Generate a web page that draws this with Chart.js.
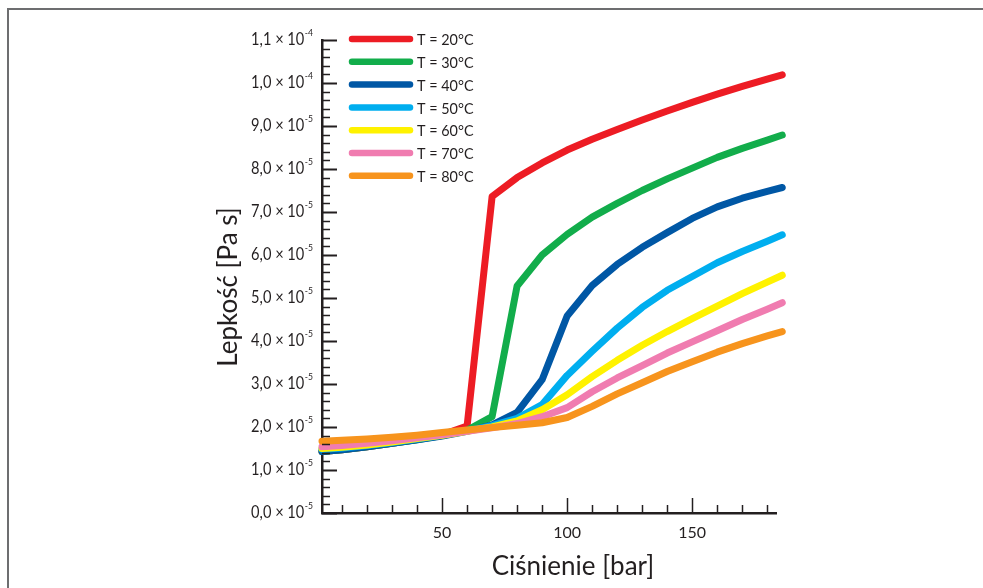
<!DOCTYPE html>
<html>
<head>
<meta charset="utf-8">
<script src="https://cdn.jsdelivr.net/npm/chart.js@4/dist/chart.umd.min.js"></script>
<style>
  html, body { margin: 0; padding: 0; background: #fff; }
</style>
</head>
<body>
<canvas id="lepkoscChart" width="983" height="588"></canvas>
<script>
// cisnienie [bar]
var cisnienie = [2, 10, 20, 30, 40, 50, 60, 70, 80, 90, 100, 110, 120, 130, 140, 150, 160, 170, 180, 186];

// lepkosc w jednostkach 10^-5 Pa s
var t20 = [1.43, 1.47, 1.54, 1.62, 1.71, 1.82, 2.02, 7.36, 7.80, 8.14, 8.44, 8.69, 8.92, 9.14, 9.35, 9.55, 9.74, 9.92, 10.09, 10.19];
var t30 = [1.43, 1.47, 1.54, 1.62, 1.70, 1.80, 1.92, 2.24, 5.28, 6.00, 6.48, 6.88, 7.20, 7.50, 7.77, 8.02, 8.27, 8.48, 8.67, 8.79];
var t40 = [1.43, 1.47, 1.54, 1.62, 1.70, 1.79, 1.90, 2.05, 2.34, 3.10, 4.58, 5.29, 5.78, 6.18, 6.52, 6.85, 7.12, 7.32, 7.48, 7.57];
var t50 = [1.48, 1.51, 1.57, 1.64, 1.72, 1.81, 1.91, 2.03, 2.20, 2.52, 3.20, 3.76, 4.30, 4.78, 5.18, 5.50, 5.82, 6.08, 6.32, 6.47];
var t60 = [1.50, 1.53, 1.58, 1.65, 1.73, 1.81, 1.90, 2.00, 2.14, 2.40, 2.75, 3.17, 3.55, 3.90, 4.22, 4.52, 4.81, 5.10, 5.37, 5.53];
var t70 = [1.54, 1.57, 1.62, 1.68, 1.75, 1.82, 1.90, 1.98, 2.08, 2.24, 2.45, 2.82, 3.14, 3.43, 3.72, 3.98, 4.24, 4.50, 4.74, 4.89];
var t80 = [1.67, 1.69, 1.72, 1.76, 1.81, 1.87, 1.93, 1.99, 2.04, 2.10, 2.22, 2.48, 2.77, 3.03, 3.29, 3.52, 3.74, 3.94, 4.12, 4.22];

var etykiety = ["T = 20°C", "T = 30°C", "T = 40°C", "T = 50°C", "T = 60°C", "T = 70°C", "T = 80°C"];
var kolory = ["#ed1c24", "#12ad4b", "#0057a5", "#00aeef", "#fff200", "#f07cb0", "#f7941d"];

// podzialki
var xPodzialki = [10, 20, 30, 40, 50, 60, 70, 80, 90, 100, 110, 120, 130, 140, 150, 160, 170, 180];
var xOpisane = [50, 100, 150];
var yGlowne = [0, 1, 2, 3, 4, 5, 6, 7, 8, 9, 10, 11];

var ciemny = '#231f20';
var font = 'Lato, "Open Sans", sans-serif';

// "1,1 × 10" + wykladnik
function opisY(v) {
    if (v >= 10) return [(v / 10).toFixed(1).replace('.', ',') + ' × 10', '-4'];
    return [v.toFixed(1).replace('.', ',') + ' × 10', '-5'];
}

var serie = [t20, t30, t40, t50, t60, t70, t80];
var datasets = serie.map(function (s, i) {
    return {
        label: etykiety[i],
        data: s.map(function (v, j) { return {x: cisnienie[j], y: v}; }),
        borderColor: kolory[i],
        backgroundColor: kolory[i],
        borderWidth: 7,
        borderCapStyle: 'round',
        borderJoinStyle: 'round',
        pointRadius: 0,
        tension: 0,
        clip: false,
        order: -i
    };
});

function tekstWaski(ctx, txt, x, y, sx) {
    ctx.save();
    ctx.translate(x, y);
    ctx.scale(sx, 1);
    ctx.fillText(txt, 0, 0);
    ctx.restore();
}

// podzialki do srodka, opisy osi y, legenda, tytuly osi, ramka
var dodatki = {
    id: 'dodatki',
    afterDraw: function (chart) {
        var ctx = chart.ctx;
        var xs = chart.scales.x, ys = chart.scales.y;
        var a = chart.chartArea;
        ctx.save();
        ctx.strokeStyle = ciemny;
        ctx.lineWidth = 1.5;
        xPodzialki.forEach(function (v) {
            var px = Math.round(xs.getPixelForValue(v)) + 0.5;
            var len = xOpisane.indexOf(v) >= 0 ? 15 : 8;
            ctx.beginPath(); ctx.moveTo(px, a.bottom); ctx.lineTo(px, a.bottom - len); ctx.stroke();
        });
        for (var k = 0; k <= 55; k++) {
            var py = Math.round(ys.getPixelForValue(k / 5)) + 0.5;
            var len = (k % 5 === 0) ? 15 : 8;
            ctx.lineWidth = (k % 5 === 0) ? 2 : 1.5;
            ctx.beginPath(); ctx.moveTo(a.left, py); ctx.lineTo(a.left + len, py); ctx.stroke();
        }

        // opisy osi y
        ctx.fillStyle = ciemny;
        ctx.textBaseline = 'middle';
        ctx.textAlign = 'left';
        var sx = 0.86;
        yGlowne.forEach(function (v) {
            var py = ys.getPixelForValue(v);
            var t = opisY(v);
            ctx.font = '10px ' + font;
            var w2 = ctx.measureText(t[1]).width * sx;
            ctx.font = '17px ' + font;
            var w1 = ctx.measureText(t[0]).width * sx;
            var prawy = a.left - 9;
            tekstWaski(ctx, t[0], prawy - w2 - w1 - 0.5, py, sx);
            ctx.font = '10px ' + font;
            tekstWaski(ctx, t[1], prawy - w2, py - 7, sx);
        });

        // legenda
        ctx.font = '16px ' + font;
        chart.data.datasets.forEach(function (d, i) {
            var y = 39 + i * 22.8;
            ctx.strokeStyle = d.borderColor;
            ctx.lineWidth = 6.5;
            ctx.lineCap = 'round';
            ctx.beginPath(); ctx.moveTo(352, y); ctx.lineTo(410, y); ctx.stroke();
            ctx.fillStyle = ciemny;
            tekstWaski(ctx, d.label, 417, y + 1, 0.9);
        });

        // tytuly osi
        ctx.fillStyle = ciemny;
        ctx.font = '26px ' + font;
        ctx.textAlign = 'center';
        ctx.fillText('Ciśnienie [bar]', 573, 567);
        ctx.translate(229, 287);
        ctx.rotate(-Math.PI / 2);
        ctx.fillText('Lepkość [Pa s]', 0, 0);
        ctx.restore();

        // ramka
        ctx.save();
        ctx.strokeStyle = '#6d6e70';
        ctx.lineWidth = 2;
        ctx.beginPath(); ctx.moveTo(8, 588); ctx.lineTo(8, 9); ctx.lineTo(983, 9); ctx.stroke();
        ctx.restore();
    }
};

new Chart(document.getElementById('lepkoscChart'), {
    type: 'line',
    data: {datasets: datasets},
    plugins: [dodatki],
    options: {
        responsive: false,
        animation: false,
        layout: {padding: {left: 0, top: 40, right: 207, bottom: 0}},
        plugins: {legend: {display: false}, tooltip: {enabled: false}},
        scales: {
            x: {
                type: 'linear',
                min: 2,
                max: 183.5,
                afterFit: function (s) { s.height = 75; },
                afterBuildTicks: function (s) {
                    s.ticks = xPodzialki.map(function (v) { return {value: v}; });
                },
                grid: {display: false},
                border: {display: true, color: ciemny, width: 2.5},
                ticks: {
                    color: ciemny,
                    font: {family: font, size: 16},
                    padding: 2,
                    maxRotation: 0,
                    autoSkip: false,
                    callback: function (v) { return xOpisane.indexOf(v) >= 0 ? String(v) : ''; }
                }
            },
            y: {
                min: 0,
                max: 11,
                afterFit: function (s) { s.width = 322; },
                afterBuildTicks: function (s) {
                    s.ticks = yGlowne.map(function (v) { return {value: v}; });
                },
                grid: {display: false},
                border: {display: true, color: ciemny, width: 2.5},
                ticks: {display: false}
            }
        }
    }
});
</script>
</body>
</html>
